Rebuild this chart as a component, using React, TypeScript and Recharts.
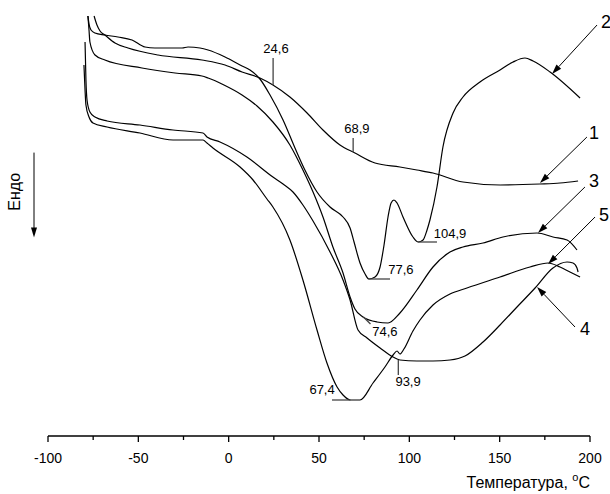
import React from 'react';
import { LineChart, Line, XAxis, YAxis, ReferenceLine, ReferenceDot } from 'recharts';

const FONT = '"Liberation Sans", Arial, Helvetica, sans-serif';

// DSC curves: [temperature, °C ; heat flow, arbitrary units]
const curve1: [number, number][] = [
  [-74.5, 42.0], [-72.9, 41.1], [-71.2, 40.5], [-68.5, 40.1], [-62.9, 39.3], [-55.7, 38.8],
  [-39.1, 38.1], [-14.8, 37.6], [-2.0, 37.1], [7.4, 36.4], [17.3, 35.8], [24.5, 35.1],
  [33.9, 33.9], [43.4, 32.3], [52.2, 30.6], [61.6, 29.1], [69.9, 28.3], [81.0, 27.3],
  [94.8, 26.9], [104.2, 26.6], [113.1, 26.3], [129.7, 25.4], [150.2, 25.1], [172.3, 25.2],
  [183.4, 25.3], [193.4, 25.5],
];

const curve2: [number, number][] = [
  [-77.9, 42.0], [-77.3, 41.2], [-76.2, 40.6], [-74.0, 40.3], [-68.5, 40.1], [-61.3, 39.9],
  [-53.5, 39.6], [-46.3, 38.9], [-40.8, 38.8], [-25.8, 38.8], [-22.5, 38.9], [-15.9, 38.8],
  [-11.4, 38.6], [-2.0, 37.9], [7.4, 37.0], [11.8, 36.6], [17.3, 35.7], [22.9, 34.1],
  [30.1, 31.6], [36.7, 28.8], [42.2, 26.6], [48.9, 24.4], [56.1, 22.9], [63.3, 21.9],
  [67.2, 20.8], [69.4, 19.4], [72.7, 17.3], [75.5, 16.2], [77.6, 15.7], [81.0, 15.9],
  [83.8, 16.9], [86.0, 19.1], [88.2, 21.9], [89.9, 23.3], [91.5, 23.6], [93.2, 23.3],
  [96.5, 21.9], [102.0, 19.9], [104.9, 19.4], [107.6, 19.6], [109.8, 20.6], [111.4, 21.6],
  [115.3, 24.9], [118.6, 28.9], [124.2, 32.3], [129.7, 33.9], [139.1, 35.4], [150.2, 36.6],
  [157.4, 37.4], [164.0, 37.8], [168.5, 37.5], [177.9, 36.4], [194.5, 33.8],
];

const curve3: [number, number][] = [
  [-77.9, 42.0], [-77.3, 40.6], [-76.8, 39.4], [-74.0, 38.1], [-68.5, 37.6], [-48.0, 36.8],
  [-29.7, 36.3], [-14.8, 36.0], [-11.4, 35.8], [-2.6, 35.1], [7.4, 34.1], [15.7, 33.0],
  [24.5, 31.4], [33.9, 29.1], [41.1, 26.6], [46.7, 24.4], [52.2, 21.9], [57.7, 18.9],
  [63.3, 16.3], [67.2, 13.9], [69.9, 12.7], [74.3, 11.9], [82.1, 11.4], [88.2, 11.3],
  [94.8, 12.3], [104.2, 14.6], [113.1, 16.9], [122.5, 18.4], [129.7, 18.9], [140.8, 19.3],
  [151.8, 19.9], [170.7, 20.3], [179.5, 19.9], [187.3, 19.6], [192.8, 18.6],
];

const curve4: [number, number][] = [
  [-79.5, 39.4], [-79.0, 35.6], [-78.4, 33.6], [-76.8, 32.4], [-74.0, 31.9], [-67.3, 31.5],
  [-49.1, 31.1], [-30.8, 30.6], [-14.2, 30.3], [-12.0, 29.9], [-4.8, 29.4], [10.1, 27.9],
  [24.5, 25.9], [30.1, 25.2], [35.6, 24.4], [41.1, 23.1], [46.7, 21.5], [56.1, 18.4],
  [63.3, 15.6], [67.2, 13.6], [71.6, 10.6], [76.6, 9.8], [83.8, 8.8], [91.0, 7.9],
  [94.8, 7.6], [104.2, 7.5], [113.1, 7.5], [122.5, 7.6], [130.8, 8.0], [140.8, 9.4],
  [150.2, 11.1], [159.6, 12.9], [169.6, 14.8], [179.5, 16.8], [187.3, 17.4], [190.6, 17.3],
  [192.8, 16.8], [193.4, 16.4],
];

const curve5: [number, number][] = [
  [-80.1, 37.1], [-79.5, 34.6], [-79.0, 33.1], [-77.3, 31.9], [-75.1, 31.3], [-67.3, 30.9],
  [-49.1, 30.3], [-30.8, 29.6], [-14.2, 29.6], [-12.0, 29.3], [-8.7, 28.8], [6.3, 26.9],
  [13.5, 25.6], [21.2, 23.7], [24.5, 22.9], [33.9, 19.6], [41.1, 15.6], [48.9, 10.6],
  [54.4, 7.3], [60.0, 4.9], [63.3, 4.1], [67.4, 3.6], [72.7, 3.6], [79.9, 5.3],
  [86.5, 6.9], [91.0, 8.1], [93.2, 8.5], [94.8, 8.2], [97.0, 8.7], [102.0, 10.5],
  [105.9, 11.6], [113.1, 13.1], [122.5, 14.2], [131.9, 14.8], [150.2, 15.9], [166.8, 16.9],
  [176.8, 17.3], [183.4, 16.9], [188.9, 16.4], [194.5, 15.9],
];

const curves = [curve1, curve2, curve3, curve4, curve5];

const xTicks = [-100, -75, -50, -25, 0, 25, 50, 75, 100, 125, 150, 175, 200];

// peak temperatures: marker line (from, to) and label position
const peakMarks = [
  { label: '24,6', from: [24.6, 35.1], to: [24.6, 37.8], at: [26.2, 38.8] },
  { label: '68,9', from: [68.9, 28.4], to: [68.9, 29.8], at: [71.0, 30.8] },
  { label: '104,9', from: [104.9, 19.4], to: [115.3, 19.4], at: [122.5, 20.3] },
  { label: '77,6', from: [77.6, 15.7], to: [89.3, 15.7], at: [95.3, 16.7] },
  { label: '74,6', from: [74.6, 11.9], to: [78.5, 11.2], at: [86.5, 10.5] },
  { label: '93,9', from: [93.9, 7.6], to: [93.9, 6.1], at: [99.3, 5.5] },
  { label: '67,4', from: [67.4, 3.6], to: [57.2, 3.6], at: [51.7, 4.7] },
];

// curve numbers with arrows pointing to the curves
const curveArrows = [
  { label: '1', from: [198.3, 29.9], to: [172.3, 25.3], at: [202.2, 30.3] },
  { label: '2', from: [203.9, 41.1], to: [179.0, 36.2], at: [208.9, 41.4] },
  { label: '3', from: [197.2, 24.9], to: [171.2, 20.3], at: [202.2, 25.5] },
  { label: '4', from: [191.7, 10.9], to: [170.7, 14.9], at: [197.2, 10.7] },
  { label: '5', from: [202.8, 21.9], to: [176.8, 17.2], at: [207.8, 22.1] },
];

const AxisTick = ({ x, y, payload }: any) => {
  const major = payload.value % 50 === 0;
  return (
    <g>
      <line x1={x} x2={x} y1={y} y2={y + (major ? 6 : 4)} stroke="#000" strokeWidth={1.3} />
      {major && (
        <text x={x} y={y + 27} textAnchor="middle" fontSize={14} fontFamily={FONT} fill="#000">
          {payload.value}
        </text>
      )}
    </g>
  );
};

const TempLabel = ({ viewBox }: any) => {
  const { x, y, width } = viewBox;
  return (
    <text x={x + width} y={y + 52} textAnchor="end" fontSize={16} fontFamily={FONT} fill="#000">
      Температура,{' '}
      <tspan dy={-7} fontSize={11}>o</tspan>
      <tspan dy={7}>C</tspan>
    </text>
  );
};

const EndoLabel = ({ viewBox }: any) => {
  const { x, y, height } = viewBox;
  const cy = y + height * 0.44;
  const ax = x + 34;
  const ay1 = y + height * 0.35;
  const ay2 = y + height * 0.545;
  return (
    <g>
      <text
        x={x + 14}
        y={cy}
        transform={`rotate(-90 ${x + 14} ${cy})`}
        textAnchor="middle"
        dy="0.35em"
        fontSize={16}
        fontFamily={FONT}
        fill="#000"
      >
        Ендо
      </text>
      <line x1={ax} x2={ax} y1={ay1} y2={ay2 - 8} stroke="#000" strokeWidth={1} />
      <polygon points={`${ax - 3},${ay2 - 10} ${ax + 3},${ay2 - 10} ${ax},${ay2}`} fill="#000" />
    </g>
  );
};

const ArrowShape = (props: any) => {
  const { x1, y1, x2, y2 } = props;
  const a = Math.atan2(y2 - y1, x2 - x1);
  const len = 10;
  const w = 3.2;
  const bx = x2 - len * Math.cos(a);
  const by = y2 - len * Math.sin(a);
  const px = -Math.sin(a) * w;
  const py = Math.cos(a) * w;
  return (
    <g>
      <line x1={x1} y1={y1} x2={bx} y2={by} stroke="#000" strokeWidth={1} />
      <polygon points={`${x2},${y2} ${bx + px},${by + py} ${bx - px},${by - py}`} fill="#000" />
    </g>
  );
};

const textShape = (label: string, size: number) => (p: any) => (
  <text x={p.cx} y={p.cy} dy="0.35em" textAnchor="middle" fontSize={size} fontFamily={FONT} fill="#000">
    {label}
  </text>
);

export default function App() {
  return (
    <div style={{ position: 'absolute', left: 0, top: 0, width: 610, height: 494, background: '#fff' }}>
      <LineChart width={610} height={494} margin={{ top: 0, right: 20, bottom: 0, left: 0 }}>
        <XAxis
          type="number"
          dataKey="t"
          domain={[-100, 200]}
          ticks={xTicks}
          interval={0}
          tickSize={0}
          tickMargin={0}
          tickLine={false}
          tick={<AxisTick />}
          height={58}
          axisLine={{ stroke: '#000', strokeWidth: 1.5 }}
          label={<TempLabel />}
        />
        <YAxis
          type="number"
          domain={[0, 43.6]}
          width={48}
          tick={false}
          tickLine={false}
          axisLine={false}
          label={<EndoLabel />}
        />
        {curves.map((c, i) => (
          <Line
            key={i}
            data={c.map(([t, v]) => ({ t, v }))}
            dataKey="v"
            type="monotone"
            stroke="#000"
            strokeWidth={1.2}
            dot={false}
            activeDot={false}
            isAnimationActive={false}
          />
        ))}
        {peakMarks.map((m) => (
          <ReferenceLine
            key={'m' + m.label}
            segment={[{ x: m.from[0], y: m.from[1] }, { x: m.to[0], y: m.to[1] }]}
            stroke="#444"
            strokeWidth={1.3}
            ifOverflow="visible"
          />
        ))}
        {peakMarks.map((m) => (
          <ReferenceDot
            key={'l' + m.label}
            x={m.at[0]}
            y={m.at[1]}
            r={1}
            ifOverflow="visible"
            shape={textShape(m.label, 13)}
          />
        ))}
        {curveArrows.map((a) => (
          <ReferenceLine
            key={'a' + a.label}
            segment={[{ x: a.from[0], y: a.from[1] }, { x: a.to[0], y: a.to[1] }]}
            ifOverflow="visible"
            shape={ArrowShape}
          />
        ))}
        {curveArrows.map((a) => (
          <ReferenceDot
            key={'n' + a.label}
            x={a.at[0]}
            y={a.at[1]}
            r={1}
            ifOverflow="visible"
            shape={textShape(a.label, 18)}
          />
        ))}
      </LineChart>
    </div>
  );
}
